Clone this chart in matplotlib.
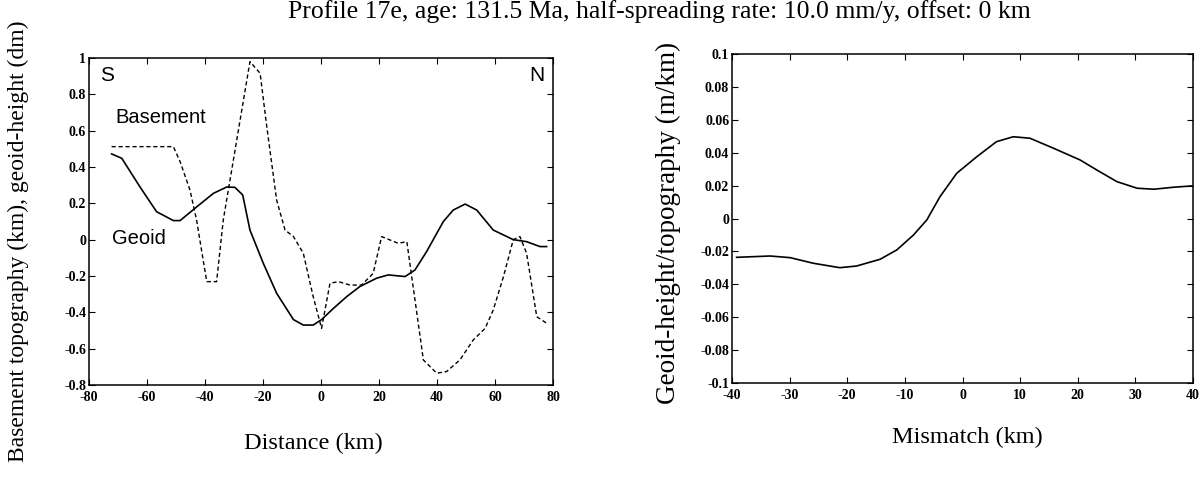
import matplotlib
matplotlib.use("Agg")
import matplotlib.pyplot as plt
import numpy as np

# ---- data ----
geoid_x = [-72.2, -68.7, -62.4, -56.7, -50.9, -48.6, -42.9, -37.1, -32.5, -29.7, -27.0, -24.5,
           -19.9, -15.3, -9.5, -6.1, -2.7, 0.2, 4.3, 8.9, 13.4, 19.2, 23.2, 29.0, 32.4, 36.4,
           42.2, 45.6, 49.7, 53.7, 59.4, 66.3, 70.9, 75.5, 77.8]
geoid_y = [0.472, 0.448, 0.29, 0.154, 0.105, 0.105, 0.18, 0.255, 0.29, 0.288, 0.246, 0.053,
           -0.13, -0.295, -0.44, -0.47, -0.47, -0.44, -0.378, -0.313, -0.258, -0.212, -0.194, -0.203, -0.167, -0.066,
           0.10, 0.163, 0.196, 0.163, 0.053, 0.0, -0.011, -0.038, -0.038]

base_x = [-72.2, -50.9, -48.6, -45.2, -42.9, -39.4, -36.0, -33.7, -24.5, -21.0, -18.7, -15.3,
          -12.4, -9.5, -6.1, -2.7, 0.2, 3.1, 6.0, 10.0, 14.0, 18.0, 20.9, 26.6, 29.6, 35.3,
          39.9, 43.3, 47.9, 52.5, 56.6, 59.4, 62.9, 66.3, 68.6, 70.9, 74.4, 77.8]
base_y = [0.512, 0.512, 0.43, 0.274, 0.108, -0.231, -0.231, 0.108, 0.98, 0.916, 0.622, 0.218,
          0.053, 0.017, -0.075, -0.313, -0.488, -0.24, -0.231, -0.25, -0.25, -0.185, 0.017, -0.02, -0.011, -0.662,
          -0.735, -0.726, -0.662, -0.552, -0.488, -0.387, -0.204, 0.0, 0.017, -0.075, -0.424, -0.46]

mis_x = [-39.2, -33.4, -29.9, -25.9, -21.3, -18.4, -14.3, -11.4, -8.5, -6.2, -3.9, -1.0, 2.5,
         5.9, 8.8, 11.7, 15.8, 20.4, 23.3, 26.8, 30.3, 33.2, 36.6, 39.8]
mis_y = [-0.0236, -0.0228, -0.0238, -0.0272, -0.0299, -0.0289, -0.0248, -0.0191, -0.010, -0.0009,
         0.0133, 0.0275, 0.0376, 0.0467, 0.0497, 0.0488, 0.0427, 0.0356, 0.0295, 0.0224, 0.0184,
         0.0178, 0.019, 0.0198]

left_xticks = [-80, -60, -40, -20, 0, 20, 40, 60, 80]
left_yticks = [-0.8, -0.6, -0.4, -0.2, 0, 0.2, 0.4, 0.6, 0.8, 1]
right_xticks = [-40, -30, -20, -10, 0, 10, 20, 30, 40]
right_yticks = [-0.1, -0.08, -0.06, -0.04, -0.02, 0, 0.02, 0.04, 0.06, 0.08, 0.1]

def fmt(v):
    return f"{v:g}"

serif = ['Liberation Serif', 'DejaVu Serif']
sans = ['Liberation Sans', 'DejaVu Sans']
tickfont = dict(family=serif, size=10, weight='bold')

fig = plt.figure(figsize=(12.02, 4.78), dpi=100)
W, H = 1202, 478
axL = fig.add_axes([89 / W, 1 - 385 / H, (553 - 89) / W, (385 - 58) / H])
axR = fig.add_axes([732 / W, 1 - 383 / H, (1193 - 732) / W, (383 - 54) / H])

axL.plot(geoid_x, geoid_y, color='black', lw=1.2)
axL.plot(base_x, base_y, color='black', lw=1.0, ls=(0, (3, 2)))
axL.set_xlim(-80, 80)
axL.set_ylim(-0.8, 1)
axL.set_xticks(left_xticks)
axL.set_xticklabels([fmt(v) for v in left_xticks], fontdict=tickfont)
axL.set_yticks(left_yticks)
axL.set_yticklabels([fmt(v) for v in left_yticks], fontdict=tickfont)

axR.plot(mis_x, mis_y, color='black', lw=1.2)
axR.set_xlim(-40, 40)
axR.set_ylim(-0.1, 0.1)
axR.set_xticks(right_xticks)
axR.set_xticklabels([fmt(v) for v in right_xticks], fontdict=tickfont)
axR.set_yticks(right_yticks)
axR.set_yticklabels([fmt(v) for v in right_yticks], fontdict=tickfont)

for ax in (axL, axR):
    ax.tick_params(direction='in', length=4, width=0.8, top=True, right=True)
    ax.tick_params(axis='x', pad=4)
    ax.tick_params(axis='y', pad=2)
    for sp in ax.spines.values():
        sp.set_linewidth(1.1)

axL.text(-76.2, 0.906, 'S', family=sans, fontsize=15, ha='left', va='center')
axL.text(77.2, 0.906, 'N', family=sans, fontsize=15, ha='right', va='center')
axL.text(-71, 0.67, 'Basement', family=sans, fontsize=14.5, ha='left', va='center')
axL.text(-72, 0.004, 'Geoid', family=sans, fontsize=14.5, ha='left', va='center')

fig.text(659 / W, 1 - 12 / H, 'Profile 17e, age: 131.5 Ma, half-spreading rate: 10.0 mm/y, offset: 0 km',
         family=serif, fontsize=18.5, ha='center', va='center')
fig.text(313 / W, 1 - 443 / H, 'Distance (km)', family=serif, fontsize=17.5, ha='center', va='center')
fig.text(967 / W, 1 - 437 / H, 'Mismatch (km)', family=serif, fontsize=17.5, ha='center', va='center')
fig.text(18 / W, 1 - 241 / H, 'Basement topography (km), geoid-height (dm)', family=serif,
         fontsize=17, rotation=90, ha='center', va='center')
fig.text(668 / W, 1 - 223 / H, 'Geoid-height/topography (m/km)', family=serif,
         fontsize=19.5, rotation=90, ha='center', va='center')

fig.savefig('out.png', dpi=100)
